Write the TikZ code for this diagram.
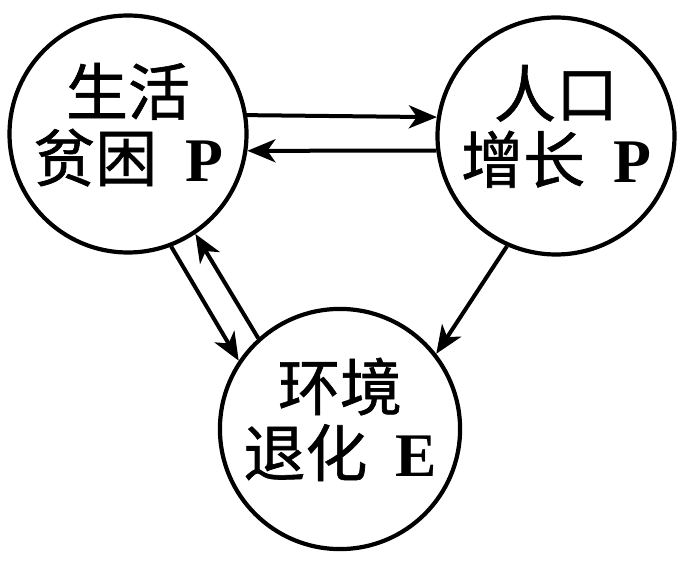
\documentclass[tikz,border=0pt]{standalone}
\usepackage{fontspec}
\setmainfont{Liberation Serif}
\newfontfamily\cjk[FakeBold=1]{Noto Sans CJK SC}
\usetikzlibrary{arrows.meta}
\newcommand{\zm}[1]{{\rmfamily\bfseries #1}}

\begin{document}
\begin{tikzpicture}[x=1pt, y=-1pt,
    quan/.style={circle, draw, line width=4.2pt, minimum size=2*\R pt, inner sep=0pt,
        align=center, font=\fontsize{62}{66}\selectfont\cjk},
    jian/.style={line width=4pt, -{Stealth[length=28pt, width=23pt, inset=8pt]}}]
    % 圆的半径
    \def\R{113}
    % 画布大小
    \useasboundingbox (0,0) rectangle (696,564);

    % --- 三个圆（末尾空行把文字略往上提） ---
    \node[quan] (pinkun) at (128,134) {生活\\贫困\hspace{.45em}\zm{P}\\[-42pt]\mbox{}};
    \node[quan] (renkou) at (556,136) {人口\\增长\hspace{.45em}\zm{P}\\[-42pt]\mbox{}};
    \node[quan] (huanjing) at (340,429) {环境\\退化\hspace{.45em}\zm{E}\\[-42pt]\mbox{}};

    % --- 箭头 ---
    \draw[jian] (pinkun.9.5) -- (renkou.171);
    \draw[jian] (renkou.-173) -- (pinkun.-8);
    \draw[jian] (pinkun.-69) -- (huanjing.146);
    \draw[jian] (huanjing.132) -- (pinkun.-56);
    \draw[jian] (renkou.-114) -- (huanjing.38);
\end{tikzpicture}
\end{document}
